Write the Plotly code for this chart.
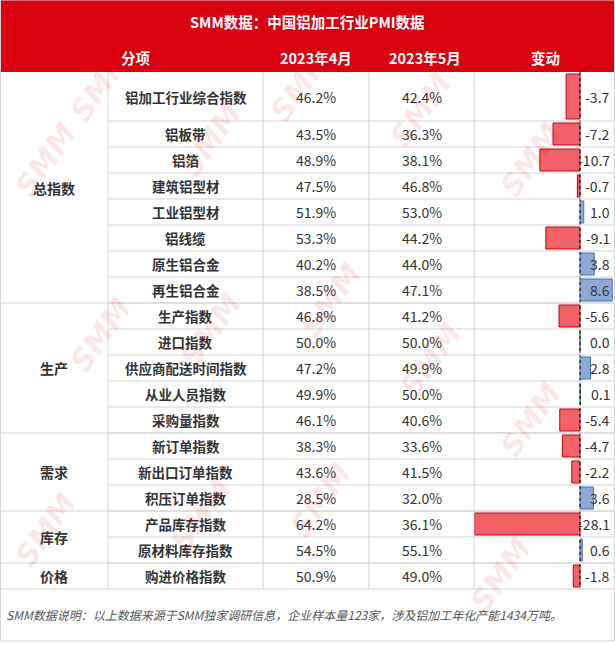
import plotly.graph_objects as go

title = "SMM数据：中国铝加工行业PMI数据"
headers = ["分项", "2023年4月", "2023年5月", "变动"]
items = ["铝加工行业综合指数", "铝板带", "铝箔", "建筑铝型材", "工业铝型材", "铝线缆", "原生铝合金", "再生铝合金",
         "生产指数", "进口指数", "供应商配送时间指数", "从业人员指数", "采购量指数",
         "新订单指数", "新出口订单指数", "积压订单指数", "产品库存指数", "原材料库存指数", "购进价格指数"]
april = ["46.2%", "43.5%", "48.9%", "47.5%", "51.9%", "53.3%", "40.2%", "38.5%", "46.8%", "50.0%", "47.2%", "49.9%",
         "46.1%", "38.3%", "43.6%", "28.5%", "64.2%", "54.5%", "50.9%"]
may = ["42.4%", "36.3%", "38.1%", "46.8%", "53.0%", "44.2%", "44.0%", "47.1%", "41.2%", "50.0%", "49.9%", "50.0%",
       "40.6%", "33.6%", "41.5%", "32.0%", "36.1%", "55.1%", "49.0%"]
change = [-3.7, -7.2, -10.7, -0.7, 1.0, -9.1, 3.8, 8.6, -5.6, 0.0, 2.8, 0.1, -5.4, -4.7, -2.2, 3.6, -28.1, 0.6, -1.8]
groups = [("总指数", 0, 7), ("生产", 8, 12), ("需求", 13, 15), ("库存", 16, 17), ("价格", 18, 18)]
footer = "SMM数据说明：以上数据来源于SMM独家调研信息，企业样本量123家，涉及铝加工年化产能1434万吨。"

W, H = 615, 646
FONT = "Noto Sans CJK SC"
cols = [0, 108, 263, 369, 474, 615]
top0 = 72
heights = [49] + [26] * 18
tops = [top0]
for h in heights:
    tops.append(tops[-1] + h)
bottom = tops[-1]
centers = [(tops[i] + tops[i + 1]) / 2 for i in range(len(items))]
grid = "#d3d3d3"
txt = "#333333"

shapes = [
    dict(type="rect", x0=0, x1=W, y0=0, y1=top0, fillcolor="#d9000f", line_width=0, layer="below"),
    dict(type="rect", x0=0.5, x1=W - 0.5, y0=0, y1=641, line=dict(color=grid, width=1)),
]
for i in range(1, len(items)):
    shapes.append(dict(type="line", x0=cols[1], x1=W, y0=tops[i], y1=tops[i], line=dict(color=grid, width=1)))
for g, a, b in groups[1:]:
    shapes.append(dict(type="line", x0=0, x1=W, y0=tops[a], y1=tops[a], line=dict(color=grid, width=1)))
shapes.append(dict(type="line", x0=0, x1=W, y0=bottom, y1=bottom, line=dict(color=grid, width=1)))
for c in cols[1:5]:
    shapes.append(dict(type="line", x0=c, x1=c, y0=top0, y1=bottom, line=dict(color=grid, width=1)))

ann = []
ann.append(dict(x=W / 2, y=21, text="<b>" + title + "</b>", font=dict(size=14.5, color="white", family=FONT)))
hx = [136, 316, 425, 545]
for x, t in zip(hx, headers):
    ann.append(dict(x=x, y=57, text="<b>" + t + "</b>", font=dict(size=14.5, color="white", family=FONT)))
for i, it in enumerate(items):
    cy = centers[i]
    ann.append(dict(x=(cols[1] + cols[2]) / 2, y=cy, text="<b>" + it + "</b>", font=dict(size=13.5, color=txt, family=FONT)))
    ann.append(dict(x=(cols[2] + cols[3]) / 2, y=cy, text=april[i], font=dict(size=14, color=txt, family=FONT)))
    ann.append(dict(x=(cols[3] + cols[4]) / 2, y=cy, text=may[i], font=dict(size=14, color=txt, family=FONT)))
    ann.append(dict(x=612, y=cy, text=f"{change[i]:.1f}", xanchor="right", font=dict(size=14, color=txt, family=FONT)))
for g, a, b in groups:
    ann.append(dict(x=54, y=(tops[a] + tops[b + 1]) / 2, text="<b>" + g + "</b>", font=dict(size=14, color=txt, family=FONT)))
ann.append(dict(x=4, y=614, text="<i>" + footer + "</i>", xanchor="left", font=dict(size=12, color="#555555", family=FONT)))
for (x, y) in [(45, 160), (100, 85), (210, 140), (300, 85), (420, 110), (100, 335), (210, 330), (330, 300),
               (530, 160), (430, 360), (45, 530), (200, 515), (530, 420), (500, 575), (320, 500)]:
    ann.append(dict(x=x, y=y, text="<b><i>SMM</i></b>", textangle=-55,
                    font=dict(size=30, color="rgba(230,0,18,0.10)", family="DejaVu Sans")))
for a in ann:
    a.update(xref="x", yref="y", showarrow=False)

fig = go.Figure()
bw = [h - 4 for h in heights]
colors = ["rgba(240,70,75,0.85)" if v < 0 else "rgba(130,160,210,0.9)" for v in change]
lines = ["#c00018" if v < 0 else "#4a6fa8" for v in change]
fig.add_trace(go.Bar(x=change, y=centers, width=bw, orientation="h", xaxis="x2", yaxis="y",
                     marker=dict(color=colors, line=dict(color=lines, width=1)), hoverinfo="skip"))
fig.add_trace(go.Scatter(x=[0, 0], y=[top0, bottom], xaxis="x2", yaxis="y", mode="lines",
                         line=dict(color="black", width=1, dash="dot"), hoverinfo="skip"))

fig.update_layout(
    width=W, height=H, margin=dict(l=0, r=0, t=0, b=0), showlegend=False,
    paper_bgcolor="white", plot_bgcolor="rgba(0,0,0,0)",
    xaxis=dict(range=[0, W], visible=False, fixedrange=True),
    xaxis2=dict(range=[-(580 - 474) / 3.75, (W - 580) / 3.75], domain=[474 / W, 1], anchor="y", visible=False),
    yaxis=dict(range=[H, 0], visible=False),
    shapes=shapes, annotations=ann,
)
fig.write_html("out.html", config={"displayModeBar": False},
               post_script="document.body.style.margin='0';document.body.style.overflow='hidden';")
